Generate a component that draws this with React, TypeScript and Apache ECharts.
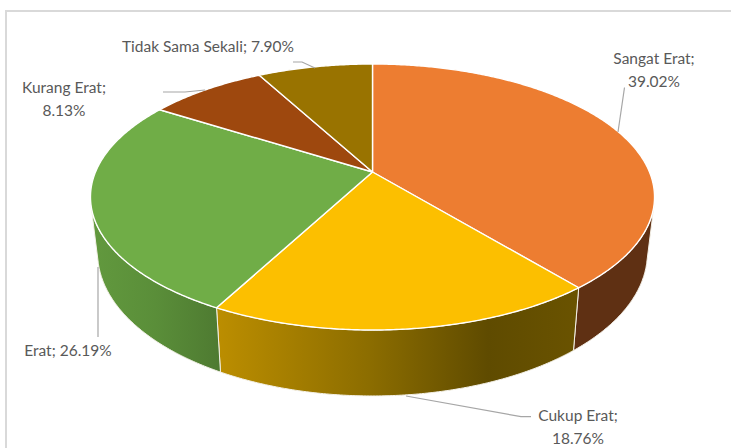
import React, { useEffect, useRef } from "react";
import * as echarts from "echarts";

// Data
const names = ["Sangat Erat", "Cukup Erat", "Erat", "Kurang Erat", "Tidak Sama Sekali"];
const shares = [39.02, 18.76, 26.19, 8.13, 7.9];

// Styles
const topColors = ["#ED7D31", "#FCBF00", "#70AD47", "#9E480E", "#997300"];
const wallStops = [
  [[0, "#5F3013"], [1, "#5F3013"]],
  [[0, "#BC8E00"], [0.42, "#8C6D00"], [0.75, "#5F4B00"], [1, "#6A5300"]],
  [[0, "#62993E"], [0.5, "#5A8E39"], [1, "#4E7A31"]],
  [[0, "#5F2B08"], [1, "#5F2B08"]],
  [[0, "#5C4500"], [1, "#5C4500"]],
];
const textColor = "#595959";
const leaderColor = "#A6A6A6";
const frameColor = "#D9D9D9";

// Label layout: centre x, first line centre y, label lines
const labelLayout = [
  { x: 654, y: 58, split: true },
  { x: 578, y: 415, split: true },
  { x: 68, y: 350, split: false },
  { x: 64, y: 87, split: true },
  { x: 208, y: 46, split: false },
];
const leaders: number[][][] = [
  [[624.5, 87.5], [618, 132]],
  [[406, 396], [521, 416.7], [531, 416.7]],
  [[98, 267], [98, 337]],
  [[163, 92], [185, 92], [205, 90]],
  [[293, 62], [302, 62], [315, 68]],
];

// Perspective projection of the pie's top and bottom discs
const CX = 372.5;
const P = 0.188;
const topDisc = { cy: 172, a: 277, b: 128.3 };
const lowDisc = { cy: 226, a: 270, b: 138 };

function project(deg: number, d: { cy: number; a: number; b: number }): number[] {
  const t = (deg * Math.PI) / 180;
  const u = Math.sin(t);
  const v = -Math.cos(t);
  const w = 1 - P * v;
  return [CX + (d.a * u) / w, d.cy + (d.b * v) / w];
}

function facing(deg: number): boolean {
  const p0 = project(deg - 0.25, topDisc);
  const p1 = project(deg + 0.25, topDisc);
  const p = project(deg, topDisc);
  const q = project(deg, lowDisc);
  return (p1[0] - p0[0]) * (q[1] - p[1]) - (p1[1] - p0[1]) * (q[0] - p[0]) < 0;
}

const bounds: number[][] = [];
{
  let acc = 0;
  const total = shares.reduce((s, v) => s + v, 0);
  shares.forEach((v) => {
    bounds.push([(acc / total) * 360, ((acc + v) / total) * 360]);
    acc += v;
  });
}

function angles(start: number, end: number): number[] {
  const out: number[] = [start];
  for (let a = Math.ceil(start * 2) / 2; a < end; a += 0.5) if (a > start) out.push(a);
  out.push(end);
  return out;
}

function renderWall(params: any) {
  const i = params.dataIndex;
  const [s, e] = bounds[i];
  const th = angles(s, e).filter(facing);
  if (th.length < 2) return { type: "group", children: [] };
  const upper = th.map((a) => project(a, topDisc));
  const lower = th.map((a) => project(a, lowDisc)).reverse();
  return {
    type: "polygon",
    shape: { points: upper.concat(lower) },
    style: {
      fill: new echarts.graphic.LinearGradient(0, 0, 1, 0, wallStops[i].map(([offset, color]) => ({ offset, color })) as any),
      stroke: "#F4F1E8",
      lineWidth: 1,
    },
  };
}

function renderTop(params: any) {
  const i = params.dataIndex;
  const [s, e] = bounds[i];
  const rim = angles(s, e).map((a) => project(a, topDisc));
  return {
    type: "polygon",
    shape: { points: [[CX, topDisc.cy], ...rim] },
    style: { fill: topColors[i], stroke: "#FFFFFF", lineWidth: 1.4, lineJoin: "round" },
  };
}

const pct = (v: number) => `${v.toFixed(2)}%`;

export default function App() {
  const ref = useRef<HTMLDivElement>(null);
  useEffect(() => {
    if (!ref.current) return;
    const chart = echarts.init(ref.current, undefined, { renderer: "svg" });
    const rows = names.map((name, i) => ({ name, value: shares[i] }));
    chart.setOption({
      animation: false,
      backgroundColor: "#FFFFFF",
      series: [
        { type: "custom", coordinateSystem: "none", silent: true, z: 2, data: rows, renderItem: renderWall },
        { type: "custom", coordinateSystem: "none", silent: true, z: 3, data: rows, renderItem: renderTop },
      ],
      graphic: {
        elements: [
          {
            type: "polyline",
            silent: true,
            z: 1,
            shape: { points: [[6, 448], [6, 11], [731, 11]] },
            style: { stroke: frameColor, lineWidth: 2, fill: "none" },
          },
          ...leaders.map((points) => ({
            type: "polyline",
            silent: true,
            z: 4,
            shape: { points },
            style: { stroke: leaderColor, lineWidth: 1.2, fill: "none" },
          })),
          ...names.map((name, i) => {
            const l = labelLayout[i];
            return {
              type: "text",
              silent: true,
              z: 5,
              x: l.x,
              y: l.y - 11.5,
              style: {
                text: l.split ? `${name};\n${pct(shares[i])}` : `${name}; ${pct(shares[i])}`,
                fill: textColor,
                font: '15.5px Lato, "Noto Sans", sans-serif',
                lineHeight: 23,
                align: "center",
                verticalAlign: "top",
              },
            };
          }),
        ],
      },
    });
    return () => chart.dispose();
  }, []);
  return <div ref={ref} style={{ position: "absolute", left: 0, top: 0, width: 731, height: 448 }} />;
}
